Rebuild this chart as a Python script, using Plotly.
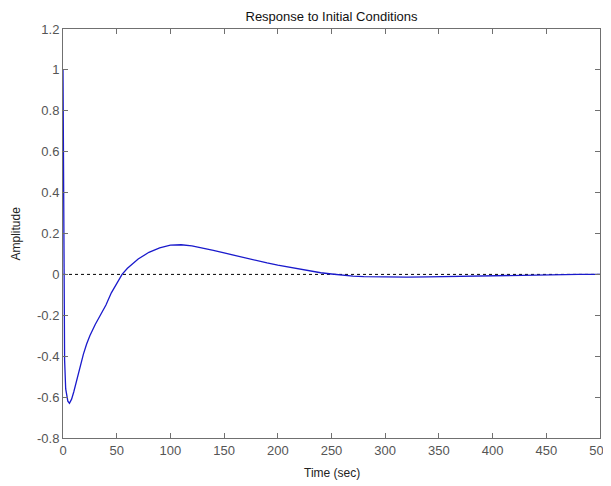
import plotly.graph_objects as go

# Response to initial conditions
time_sec = [0, 0.4, 0.8, 1.5, 2.5, 3.5, 4.5, 6, 8, 10, 13, 16, 19, 22, 25, 30, 35, 40, 45, 50,
            55, 60, 70, 80, 90, 100, 110, 120, 130, 140, 150, 160, 170, 180, 190, 200, 210,
            220, 230, 240, 250, 260, 270, 280, 300, 320, 340, 360, 380, 400, 420, 440, 460,
            480, 500]
amplitude = [1.0, 0.3, -0.2, -0.42, -0.56, -0.6, -0.62, -0.63, -0.61, -0.575, -0.51, -0.45,
             -0.39, -0.34, -0.30, -0.245, -0.195, -0.15, -0.09, -0.045,
             0.0, 0.03, 0.075, 0.108, 0.13, 0.143, 0.145, 0.14, 0.13, 0.118, 0.105, 0.092,
             0.079, 0.067, 0.056, 0.045, 0.035, 0.025, 0.016, 0.008, 0.002, -0.004, -0.008,
             -0.011, -0.013, -0.013, -0.012, -0.01, -0.008, -0.006, -0.004, -0.002, -0.001,
             0.0, 0.0]

x_ticks = [0, 50, 100, 150, 200, 250, 300, 350, 400, 450, 500]
y_ticks = [-0.8, -0.6, -0.4, -0.2, 0, 0.2, 0.4, 0.6, 0.8, 1, 1.2]
y_labels = ['-0.8', '-0.6', '-0.4', '-0.2', '0', '0.2', '0.4', '0.6', '0.8', '1', '1.2']

FONT = 'Liberation Sans, Arial'

fig = go.Figure()
fig.add_trace(go.Scatter(x=[0, 500], y=[0, 0], mode='lines',
                         line=dict(color='black', width=1, dash='3px,3px'), hoverinfo='skip'))
fig.add_trace(go.Scatter(x=time_sec, y=amplitude, mode='lines',
                         line=dict(color='#1a1acc', width=1.3)))

axis_style = dict(showline=True, linecolor='#707070', linewidth=1, mirror='ticks',
                  ticks='inside', ticklen=5, tickcolor='#707070', showgrid=False,
                  zeroline=False, automargin=False,
                  tickfont=dict(family=FONT, size=13, color='#555555'))

fig.update_xaxes(range=[0, 500], tickvals=x_ticks, ticktext=[str(v) for v in x_ticks], **axis_style)
fig.update_yaxes(range=[-0.8, 1.2], tickvals=y_ticks, ticktext=y_labels, **axis_style)

# axis titles as annotations so the plot box stays where the reference has it
fig.add_annotation(text='Time (sec)', xref='paper', yref='paper', x=0.5, y=0,
                   yshift=-35, showarrow=False, yanchor='middle',
                   font=dict(family=FONT, size=12, color='#222222'))
fig.add_annotation(text='Amplitude', xref='paper', yref='paper', x=0, y=0.5,
                   xshift=-48, textangle=-90, showarrow=False, xanchor='center',
                   font=dict(family=FONT, size=12, color='#222222'))

# the page puts the figure 8px in from the corner, so the figure is a bit smaller
fig.update_layout(
    width=603, height=478,
    margin=dict(l=55, r=11, t=21, b=48),
    plot_bgcolor='white', paper_bgcolor='white',
    showlegend=False,
    title=dict(text='Response to Initial Conditions', x=0.5, xanchor='center', xref='paper',
               y=1 - 8 / 478, yanchor='middle',
               font=dict(family=FONT, size=13, color='#111111')),
)

fig.write_html('out.html')
